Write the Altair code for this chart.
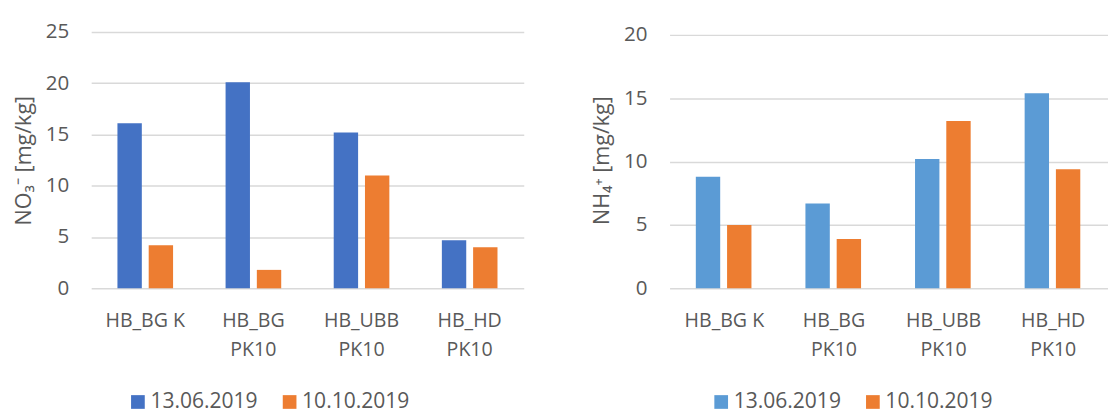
import altair as alt
import pandas as pd

categories = ["HB_BG K", "HB_BG\nPK10", "HB_UBB\nPK10", "HB_HD\nPK10"]
dates = ["13.06.2019", "10.10.2019"]
no3_june = [16.1, 20.1, 15.2, 4.7]
no3_oct = [4.2, 1.8, 11.0, 4.0]
nh4_june = [8.8, 6.7, 10.2, 15.4]
nh4_oct = [5.0, 3.9, 13.2, 9.4]

def frame(june, octo):
    rows = []
    for c, a, b in zip(categories, june, octo):
        rows.append({"cat": c, "date": dates[0], "value": a})
        rows.append({"cat": c, "date": dates[1], "value": b})
    return pd.DataFrame(rows)

FONT = "Open Sans"
TXT = "#595959"

def panel(df, title, ymax, colors, width, xrange, legend_x, outer):
    if xrange is not None:
        x_scale = alt.Scale(paddingInner=0, paddingOuter=0, range=xrange)
    else:
        x_scale = alt.Scale(paddingInner=0, paddingOuter=0)
    return alt.Chart(df).mark_bar().encode(
        x=alt.X("cat:N", sort=categories, scale=x_scale,
                axis=alt.Axis(title=None, labelAngle=0, domain=False, ticks=False,
                              labelExpr="split(datum.label, '\\n')",
                              labelFont=FONT, labelFontSize=20, labelColor=TXT,
                              labelPadding=23, labelLineHeight=30, grid=False)),
        xOffset=alt.XOffset("date:N", sort=dates,
                            scale=alt.Scale(paddingInner=0.22, paddingOuter=outer)),
        y=alt.Y("value:Q", scale=alt.Scale(domain=[0, ymax], nice=False),
                axis=alt.Axis(title=title, values=[0, 5, 10, 15, 20, 25], domain=False, ticks=False,
                              labelFont=FONT, labelFontSize=21, labelColor=TXT, labelPadding=23,
                              titleFont=FONT, titleFontSize=22, titleColor=TXT,
                              titleFontWeight="normal", titlePadding=10,
                              gridColor="#D9D9D9", gridWidth=1.5)),
        color=alt.Color("date:N", sort=dates,
                        scale=alt.Scale(domain=dates, range=colors),
                        legend=alt.Legend(title=None, orient="none", direction="horizontal",
                                          legendX=legend_x, legendY=367,
                                          symbolType="square", symbolSize=196,
                                          symbolStrokeWidth=0, labelOffset=2,
                                          columnPadding=21,
                                          labelFont=FONT, labelFontSize=21.5, labelColor=TXT)),
    ).properties(width=width, height=262)

left = panel(frame(no3_june, no3_oct), "NO₃⁻ [mg/kg]", 25, ["#4472C4", "#ED7D31"], 442, None, 37, 0.84)
right = panel(frame(nh4_june, nh4_oct), "NH₄⁺ [mg/kg]", 20 * 262 / 259, ["#5B9BD5", "#ED7D31"], 428, [0, 448], 42, 0.86)

chart = alt.hconcat(left, right, spacing=68).resolve_scale(color="independent", y="independent").configure_view(
    stroke=None
).properties(padding={"left": 4, "top": 9, "right": 0, "bottom": 0})

chart.save("out.html", embed_options={"renderer": "svg", "actions": False})
